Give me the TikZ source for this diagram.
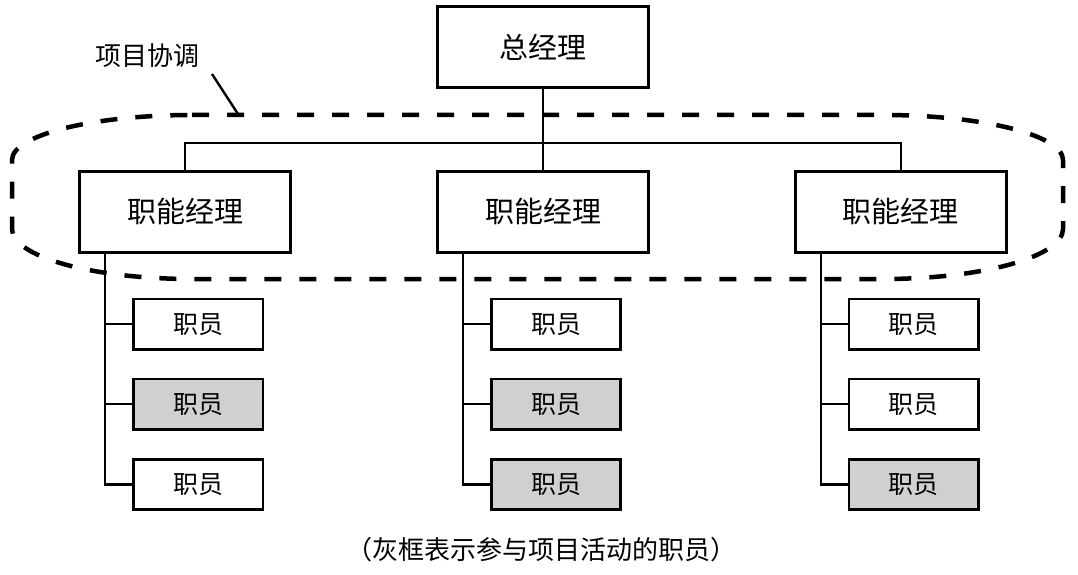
\documentclass[tikz,border=0pt]{standalone}
\usepackage{fontspec}
\usepackage{xcolor}
\usepackage{tikz}
\usetikzlibrary{positioning,calc}
\newfontfamily\cjk{Noto Sans CJK SC}
\definecolor{ink}{RGB}{0,0,0}
\definecolor{grayfill}{RGB}{208,208,208}
\tikzset{
  headbox/.style={draw=ink, line width=2.8pt, fill=white,
    minimum width=211pt, minimum height=81pt, inner sep=0pt,
    font=\cjk\fontsize{29}{32}\selectfont},
  mgrbox/.style={headbox},
  staffbox/.style={draw=ink, line width=2.6pt, fill=white,
    minimum width=129.5pt, minimum height=50.5pt, inner sep=0pt,
    font=\cjk\fontsize{25}{28}\selectfont},
  activebox/.style={staffbox, fill=grayfill},
  link/.style={draw=ink, line width=2.2pt},
  scopeline/.style={draw=ink, line width=4.5pt, dash pattern=on 17pt off 18pt}
}

\begin{document}
\begin{tikzpicture}[x=1pt, y=1pt, node distance=81pt and 144pt]
\useasboundingbox (0,0) rectangle (1078,-575);

\node[headbox] (gm) at (543,-47) {总经理};
\node[mgrbox, below=of gm] (m2) {职能经理};
\node[mgrbox, left=of m2] (m1) {职能经理};
\node[mgrbox, right=of m2] (m3) {职能经理};

\node[staffbox, below=44pt of m1, xshift=13pt] (a1) {职员};
\node[activebox, below=27pt of a1] (a2) {职员};
\node[staffbox, below=27pt of a2] (a3) {职员};

\node[staffbox, below=44pt of m2, xshift=13pt] (b1) {职员};
\node[activebox, below=27pt of b1] (b2) {职员};
\node[activebox, below=27pt of b2] (b3) {职员};

\node[staffbox, below=44pt of m3, xshift=13pt] (c1) {职员};
\node[staffbox, below=27pt of c1] (c2) {职员};
\node[activebox, below=27pt of c2] (c3) {职员};

\coordinate (bus) at ($(m2.north)+(0,27pt)$);
\draw[link] (gm) -- (m2);
\draw[link] (m1) |- (bus) -| (m3);

\coordinate (ta) at ($(m1.south west)+(27pt,0)$);
\draw[link] (ta) |- (a3);
\draw[link] (ta |- a1) -- (a1);
\draw[link] (ta |- a2) -- (a2);

\coordinate (tb) at ($(m2.south west)+(27pt,0)$);
\draw[link] (tb) |- (b3);
\draw[link] (tb |- b1) -- (b1);
\draw[link] (tb |- b2) -- (b2);

\coordinate (tc) at ($(m3.south west)+(27pt,0)$);
\draw[link] (tc) |- (c3);
\draw[link] (tc |- c1) -- (c1);
\draw[link] (tc |- c2) -- (c2);

% project coordination loop
\draw[scopeline] (192,-115) -- (883,-115)
  arc[start angle=90, end angle=0, x radius=180, y radius=45] -- (1063,-229)
  arc[start angle=0, end angle=-90, x radius=180, y radius=50] -- (192,-279)
  arc[start angle=270, end angle=180, x radius=180, y radius=50] -- (12,-160)
  arc[start angle=180, end angle=90, x radius=180, y radius=45] -- cycle;

\node[font=\cjk\fontsize{26}{30}\selectfont] (lbl) at (147,-56) {项目协调};
\coordinate (lead) at (212,-74);
\coordinate (tip) at (238,-114);
\draw[link, line width=2.4pt] (lead) -- (tip);

\node[font=\cjk\fontsize{26}{30}\selectfont] (note) at (541,-550) {（灰框表示参与项目活动的职员）};
\end{tikzpicture}
\end{document}
